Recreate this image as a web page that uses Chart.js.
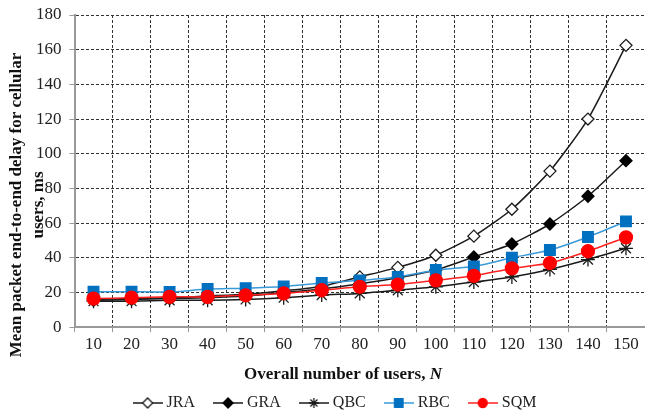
<!DOCTYPE html>
<html>
<head>
<meta charset="utf-8">
<script src="https://cdn.jsdelivr.net/npm/chart.js@4.4.1/dist/chart.umd.min.js"></script>
<style>
  html, body { margin: 0; padding: 0; background: #fff; }
  #wrap { width: 645px; height: 415px; }
</style>
</head>
<body>
<div id="wrap"><canvas id="myCanvas" width="645" height="415"></canvas></div>
<script>
// number of users
var users = ['10','20','30','40','50','60','70','80','90','100','110','120','130','140','150'];
// mean delay, ms
var jra = [16, 16.5, 17, 18, 19, 21, 23.5, 29, 34.5, 41.5, 52.5, 68, 90, 120, 162.5];
var gra = [15.5, 16, 16.5, 17, 18, 20, 22, 25, 28.5, 33, 40.5, 48, 59.5, 75.5, 96];
var qbc = [15, 15, 15.5, 15.5, 16, 17, 18.5, 19.5, 21.3, 23.3, 26, 29, 33.3, 39, 45.5];
var rbc = [20.5, 20.5, 20.3, 22, 22.5, 23.5, 25.5, 27, 29, 33, 35, 40, 44.5, 52, 61];
var sqm = [16.5, 17, 17.5, 17.5, 18.4, 19.5, 21.3, 23.3, 24.6, 27, 29.6, 33.9, 37, 43.8, 51.8];
var yTicks = [0, 20, 40, 60, 80, 100, 120, 140, 160, 180];

var serif = "'Liberation Serif', 'Times New Roman', serif";

// small canvas used as legend symbol: line with marker in the middle
function legendIcon(color, lineColor, style, fill){
    var c = document.createElement('canvas');
    c.width = 30; c.height = 14;
    var ctx = c.getContext('2d');
    ctx.strokeStyle = lineColor;
    ctx.lineWidth = 1.5;
    ctx.beginPath();
    ctx.moveTo(0, 7); ctx.lineTo(30, 7);
    ctx.stroke();
    ctx.fillStyle = fill;
    ctx.strokeStyle = color;
    ctx.lineWidth = 1.3;
    var r = style == 'rect' ? 6 : (style == 'circle' ? 4.5 : 5);
    Chart.helpers.drawPoint(ctx, {pointStyle: style, radius: r, rotation: 0, borderWidth: 1.3}, 15, 7);
    return c;
}

var series = [
    {label: 'JRA', data: jra, color: '#1a1a1a', line: '#1a1a1a', fill: '#ffffff', style: 'rectRot', r: 6, order: 5},
    {label: 'GRA', data: gra, color: '#000000', line: '#1a1a1a', fill: '#000000', style: 'rectRot', r: 6, order: 4},
    {label: 'QBC', data: qbc, color: '#1a1a1a', line: '#1a1a1a', fill: '#1a1a1a', style: 'star', r: 7, order: 3},
    {label: 'RBC', data: rbc, color: '#0070c0', line: '#3a9ad9', fill: '#0070c0', style: 'rect', r: 7.5, order: 2},
    {label: 'SQM', data: sqm, color: '#ff0000', line: '#ff2020', fill: '#ff0000', style: 'circle', r: 6.5, order: 1}
];

var datasets = [];
series.forEach(function(s){
    datasets.push({
        label: s.label,
        data: s.data,
        borderColor: s.line,
        borderWidth: 1.5,
        pointStyle: s.style,
        pointRadius: s.r,
        pointBackgroundColor: s.fill,
        pointBorderColor: s.color,
        pointBorderWidth: 1.3,
        tension: 0.2,
        order: s.order,
        clip: false,
        legendIcon: legendIcon(s.color, s.line, s.style, s.fill)
    });
});

// axis titles drawn by hand so they can sit where the original has them
var axisTitles = {
    id: 'axisTitles',
    afterDraw: function(chart){
        var ctx = chart.ctx;
        ctx.save();
        ctx.fillStyle = '#111';
        ctx.textAlign = 'center';
        ctx.textBaseline = 'middle';
        ctx.font = 'bold 17px ' + serif;
        ctx.save();
        ctx.translate(17, 205);
        ctx.rotate(-Math.PI / 2);
        ctx.fillText('Mean packet end-to-end delay for cellular', 0, 0);
        ctx.restore();
        ctx.save();
        ctx.translate(39, 205);
        ctx.rotate(-Math.PI / 2);
        ctx.fillText('users, ms', 0, 0);
        ctx.restore();
        // x title with italic N
        var a = 'Overall number of users, ';
        var wa = ctx.measureText(a).width;
        ctx.font = 'italic bold 17px ' + serif;
        var wn = ctx.measureText('N').width;
        var x0 = 343 - (wa + wn) / 2;
        ctx.textAlign = 'left';
        ctx.font = 'bold 17px ' + serif;
        ctx.fillText(a, x0, 375);
        ctx.font = 'italic bold 17px ' + serif;
        ctx.fillText('N', x0 + wa, 375);
        ctx.restore();
    }
};

const config = {
    type: 'line',
    data: { labels: users, datasets: datasets },
    plugins: [axisTitles],
    options: {
        responsive: false,
        animation: false,
        layout: { autoPadding: false, padding: { top: 15, right: 0, left: 28, bottom: -6 } },
        plugins: {
            tooltip: { enabled: false },
            legend: {
                position: 'bottom',
                labels: {
                    usePointStyle: true,
                    pointStyleWidth: 22,
                    padding: 6,
                    color: '#222',
                    font: { family: serif, size: 16 },
                    generateLabels: function(chart){
                        return chart.data.datasets.map(function(ds, i){
                            return {
                                text: i < chart.data.datasets.length - 1 ? ds.label + '    ' : ds.label,
                                pointStyle: ds.legendIcon,
                                fillStyle: ds.borderColor,
                                strokeStyle: ds.borderColor,
                                lineWidth: 0,
                                fontColor: '#222',
                                datasetIndex: i,
                                hidden: false
                            };
                        });
                    }
                }
            }
        },
        scales: {
            x: {
                offset: true,
                afterFit: function(scale){ scale.paddingRight = 0; },
                grid: {
                    offset: true,
                    color: '#333',
                    tickColor: '#999',
                    tickLength: 5,
                    lineWidth: 1
                },
                border: { color: '#999', width: 2, dash: [3, 2] },
                ticks: { color: '#222', font: { family: serif, size: 17 }, padding: 2, maxRotation: 0 },
                title: {
                    display: true,
                    text: ' ',
                    font: { family: serif, size: 17 },
                    padding: { top: 8, bottom: 4 }
                }
            },
            y: {
                min: 0,
                max: 180,
                afterFit: function(scale){ scale.paddingTop = 0; },
                afterBuildTicks: function(scale){
                    scale.ticks = yTicks.map(function(v){ return {value: v}; });
                },
                grid: {
                    color: function(c){ return c.tick && c.tick.value === 0 ? 'rgba(0,0,0,0)' : '#333'; },
                    tickColor: '#999',
                    tickLength: 5,
                    lineWidth: 1
                },
                border: { color: '#999', width: 2, dash: [3, 2] },
                ticks: { color: '#222', font: { family: serif, size: 17 }, padding: 8 }
            }
        }
    }
};

var myChart = new Chart(document.getElementById('myCanvas'), config);
</script>
</body>
</html>
